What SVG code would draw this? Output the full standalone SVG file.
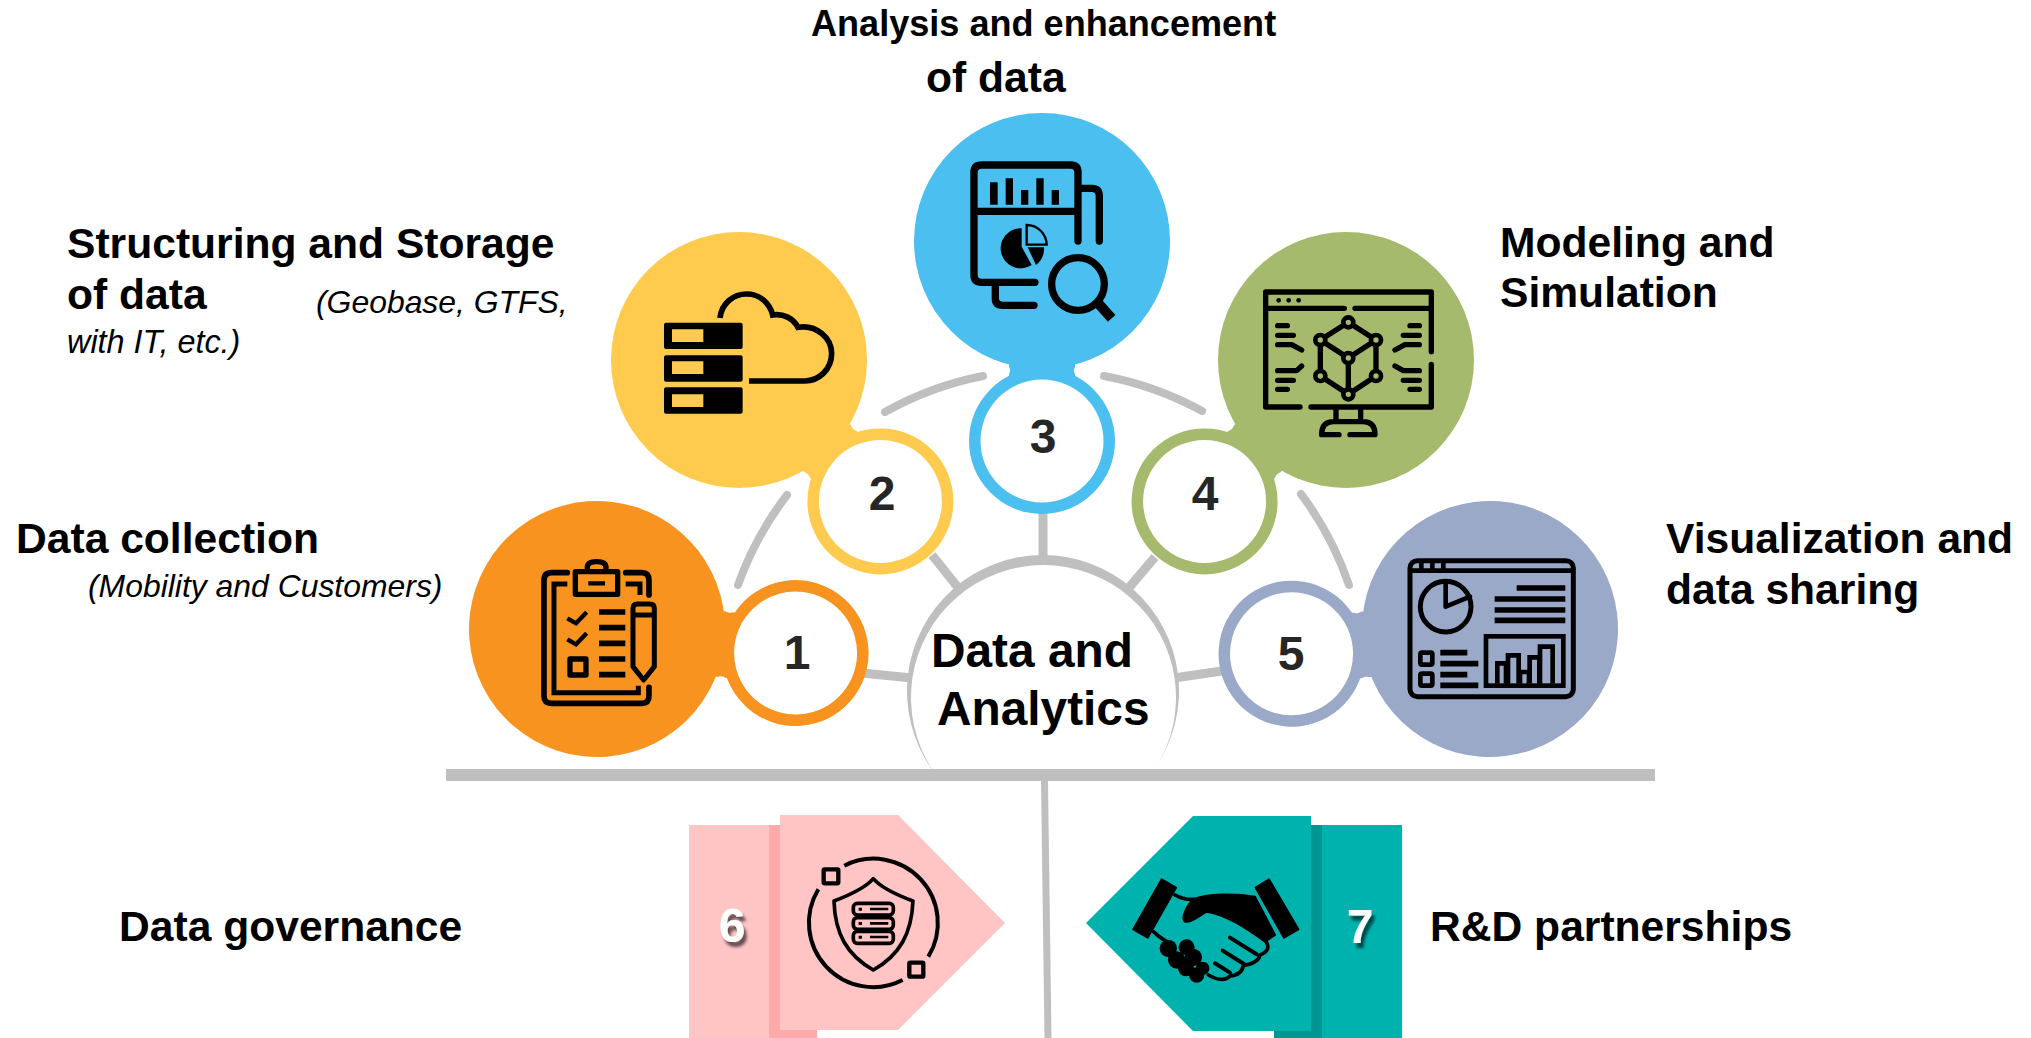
<svg xmlns="http://www.w3.org/2000/svg" width="2031" height="1038" viewBox="0 0 2031 1038">
<style>
text{font-family:"Liberation Sans",Arial,sans-serif}
.lb{font-weight:700;font-size:42.600px;fill:#000}
.it{font-style:italic;font-size:31.900px;fill:#000}
.num{font-weight:700;font-size:48px;fill:#262626;text-anchor:middle}
.wn{font-weight:700;font-size:48px;fill:#fff;text-anchor:middle;filter:url(#sh)}
.ct{font-weight:700;font-size:47.800px;fill:#000}
.conn line,.conn path{stroke:#bfbfbf;fill:none}
.s{fill:none;stroke:#000;stroke-linecap:round;stroke-linejoin:round}
.b{fill:none;stroke:#000;stroke-linecap:butt;stroke-linejoin:miter}
.k{fill:#000}
</style>
<defs>
<filter id="sh" x="-30%" y="-30%" width="170%" height="170%"><feDropShadow dx="3" dy="5" stdDeviation="1.500" flood-color="#000" flood-opacity=".6"/></filter>
<g id="blob">
<circle r="128"/>
<circle cx="200" r="73"/>
<rect x="100" y="-33" width="60" height="66"/>
<circle cx="129.500" cy="-39" r="7" fill="#fff"/>
<circle cx="129.500" cy="39" r="7" fill="#fff"/>
<circle cx="200" r="61.500" fill="#fff"/>
</g>
</defs>
<rect width="2031" height="1038" fill="#fff"/>

<g id="connectors" class="conn">
<g stroke-width="9">
<line x1="1043" y1="510" x2="1043" y2="560"/>
<line x1="932" y1="555" x2="960" y2="590"/>
<line x1="1155" y1="557" x2="1127" y2="590"/>
<line x1="862" y1="673" x2="912" y2="678"/>
<line x1="1174" y1="678" x2="1222" y2="671"/>
</g>
<g stroke-width="8" stroke-linecap="round">
<path d="M738,585 A330,330 0 0 1 787,495"/>
<path d="M885,412 A330,330 0 0 1 983,376"/>
<path d="M1104,376 A330,330 0 0 1 1202,411"/>
<path d="M1301,494 A330,330 0 0 1 1349,585"/>
</g>
<line x1="446" y1="775" x2="1655" y2="775" stroke-width="12"/>
<line x1="1044.500" y1="781" x2="1048" y2="1038" stroke-width="7"/>
</g>

<g id="hub">
<path d="M931.600,769 A136,136 0 1 1 1154.400,769 Z" fill="#bfbfbf"/>
<path d="M931.900,769 A132.500,132.500 0 1 1 1155.100,769 Z" fill="#fff"/>
<text class="ct" x="931" y="667">Data and</text>
<text class="ct" x="937" y="725">Analytics</text>
</g>

<g id="node1">
<use href="#blob" fill="#f8931f" transform="translate(597,629) rotate(6.900)"/>
<text class="num" x="797" y="669">1</text>
<g transform="translate(450,480) scale(.3333)">
<path class="s" stroke-width="17" d="M352,278H305Q282,278 282,301V648Q282,670 305,670H575Q597,670 597,648V622M527,278H575Q597,278 597,301V345"/>
<path class="b" stroke-width="15" d="M352,312H312V638H565V617M527,312H570V345"/>
<path class="s" stroke-width="16" d="M376,275H503V343H376ZM412,275V262Q412,245 440,245Q468,245 468,262V275"/>
<path class="b" stroke-width="13" d="M415,310H465M352,415L378,430L410,397M352,478L378,493L410,460"/>
<path class="b" stroke-width="17" d="M447,396H526M447,443H526M447,490H526M447,537H526M447,584H526"/>
<rect class="s" stroke-width="16" x="360" y="537" width="48" height="48"/>
<path class="s" stroke-width="15" d="M549,385Q549,372 562,372H600Q613,372 613,385V560L581,600L549,560ZM549,405H613"/>
</g>
<text class="lb" x="16" y="553">Data collection</text>
<text class="it" x="88" y="597">(Mobility and Customers)</text>
</g>

<g id="node2">
<use href="#blob" fill="#ffcb4e" transform="translate(739,360) rotate(45)"/>
<text class="num" x="882" y="510">2</text>
<g transform="translate(600,220) scale(.3333)">
<path class="k" d="M198,308H422Q428,308 428,314V381Q428,387 422,387H198Q192,387 192,381V314Q192,308 198,308ZM198,406H422Q428,406 428,412V479Q428,485 422,485H198Q192,485 192,479V412Q192,406 198,406ZM198,502H422Q428,502 428,508V575Q428,581 422,581H198Q192,581 192,575V508Q192,502 198,502Z"/>
<path fill="#ffcb4e" d="M216,328H310V366H216ZM216,424H310V462H216ZM216,523H310V561H216Z"/>
<path class="b" stroke-width="17" d="M360,294C365,250 400,222 440,222C480,222 510,250 518,285C550,280 580,295 594,322C650,312 695,355 695,400C695,450 655,483 615,483H447"/>
</g>
<text class="lb" x="67" y="258">Structuring and Storage</text>
<text class="lb" x="67" y="309">of data</text>
<text class="it" x="316" y="313">(Geobase, GTFS,</text>
<text class="it" x="67" y="353" style="font-size:32.400px">with IT, etc.)</text>
</g>

<g id="node3">
<use href="#blob" fill="#4bbff0" transform="translate(1042,241) rotate(90)"/>
<text class="num" x="1043" y="453">3</text>
<g transform="translate(930,130) scale(.3333)">
<path class="s" stroke-width="22" d="M315,457H155Q132,457 132,435V127Q132,105 155,105H422Q444,105 444,127V333M132,244H444M196,457V505Q196,526 217,526H312M444,175H485Q508,175 508,198V333"/>
<path class="k" d="M180,157h23v67h-23zM227,145h22v79h-22zM273,180h22v44h-22zM319,145h22v79h-22zM365,180h22v44h-22zM275,295A60,60 0 1 0 305,405L275,350ZM293,352H342A62,62 0 0 1 318,405Z"/>
<path class="b" stroke-width="7" d="M290,285V344H350A60,60 0 0 0 290,285Z"/>
<circle class="b" stroke-width="22" cx="444" cy="462" r="79"/>
<path class="b" stroke-width="30" d="M505,520L545,565"/>
</g>
<text class="lb" x="811" y="36" style="font-size:36.100px">Analysis and enhancement</text>
<text class="lb" x="926" y="92">of data</text>
</g>

<g id="node4">
<use href="#blob" fill="#a5ba6c" transform="translate(1346,360) rotate(135)"/>
<text class="num" x="1205" y="510">4</text>
<g transform="translate(1240,270) scale(.3333)">
<path class="s" stroke-width="16" d="M180,411H77V66H574V245M574,283V411H213M77,115H313M345,115H574M288,411V455M362,411V455M297,494H245Q245,455 280,455H370Q405,455 405,494H330M113,167H142M113,196H160M113,224H155L185,240M185,288L170,302H113M113,331H160M113,358H142M510,167H538M490,196H538M538,224H495L465,240M465,288L490,302H538M490,331H538M510,358H538M325,157L241,210L241,318L325,373L408,318L408,210L325,157M241,210L325,264L408,210M325,264V373"/>
<g fill="#a5ba6c" stroke="#000" stroke-width="14"><circle cx="325" cy="157" r="15"/><circle cx="241" cy="210" r="15"/><circle cx="408" cy="210" r="15"/><circle cx="325" cy="264" r="15"/><circle cx="241" cy="318" r="15"/><circle cx="408" cy="318" r="15"/><circle cx="325" cy="373" r="15"/></g>
<circle class="k" cx="116" cy="91" r="7"/><circle class="k" cx="146" cy="91" r="7"/><circle class="k" cx="176" cy="91" r="7"/>
</g>
<text class="lb" x="1500" y="257">Modeling and</text>
<text class="lb" x="1500" y="307">Simulation</text>
</g>

<g id="node5">
<use href="#blob" fill="#9ba9c8" transform="translate(1490,629) rotate(172.900)"/>
<text class="num" x="1291" y="670">5</text>
<g transform="translate(1380,540) scale(.3333)">
<rect class="s" stroke-width="15" x="90" y="62" width="490" height="408" rx="22"/>
<path class="b" stroke-width="14" d="M90,92H580M124,62V92M157,62V92M190,62V92"/>
<circle class="s" stroke-width="15" cx="197" cy="200" r="76"/>
<path class="s" stroke-width="14" d="M270,170L197,200V125"/>
<path class="b" stroke-width="17" d="M410,144H556M344,177H556M344,210H556M344,241H556M181,338H262M181,371H295M181,404H262M181,436H295"/>
<rect class="b" stroke-width="14" x="318" y="289" width="232" height="148"/>
<path class="b" stroke-width="14" d="M352,431V370H378V431M384,431V346H416V431M420,431V396H447V431M449,431V352H478V431M480,431V320H518V431"/>
<rect class="s" stroke-width="14" x="121" y="338" width="36" height="36" rx="5"/>
<rect class="s" stroke-width="14" x="121" y="401" width="36" height="36" rx="5"/>
</g>
<text class="lb" x="1666" y="553">Visualization and</text>
<text class="lb" x="1666" y="604">data sharing</text>
</g>

<g id="node6">
<rect x="689" y="825" width="80" height="213" fill="#ffc4c4"/>
<rect x="769" y="825" width="48" height="213" fill="#ffaaaa"/>
<path d="M780,815H898L1005,923L898,1030H780Z" fill="#ffc4c4"/>
<text class="wn" x="732" y="942">6</text>
<g transform="translate(670,800) scale(.3333)">
<path class="b" stroke-width="12" d="M523,197A193,193 0 0 1 775,470M698,540A193,193 0 0 1 445,268"/>
<rect class="s" stroke-width="13" x="461" y="208" width="44" height="42" rx="3"/>
<rect class="s" stroke-width="13" x="718" y="488" width="42" height="42" rx="3"/>
<path class="s" stroke-width="11" d="M610,236C585,265 540,285 492,303C495,400 530,465 610,510C690,465 725,400 729,303C680,285 635,265 610,236Z"/>
<rect class="s" stroke-width="11" x="550" y="310" width="120" height="35" rx="12"/>
<rect class="s" stroke-width="11" x="550" y="353" width="120" height="35" rx="12"/>
<rect class="s" stroke-width="11" x="550" y="394" width="120" height="36" rx="12"/>
<path class="k" d="M566,323h10v9h-10zM566,366h10v9h-10zM566,407h10v9h-10zM600,323h55v8h-55zM600,366h55v8h-55zM600,407h55v8h-55z"/>
</g>
<text class="lb" x="119" y="941">Data governance</text>
</g>

<g id="node7">
<rect x="1322" y="825" width="80" height="213" fill="#00b2ae"/>
<rect x="1274" y="825" width="48" height="213" fill="#009590"/>
<path d="M1086,923L1193,816H1311V1031H1193Z" fill="#00b2ae"/>
<text class="wn" x="1360" y="943">7</text>
<g transform="translate(1060,800) scale(.3333)">
<path class="k" stroke="#000" stroke-width="6" stroke-linejoin="round" d="M305,238L348,263L263,413L220,388ZM627,238L587,263L672,413L715,388ZM400,298C440,280 530,280 585,290L645,405L615,425C560,385 500,345 440,335C420,345 395,370 375,365C360,355 385,310 400,298Z"/>
<g class="k"><circle cx="325" cy="445" r="26"/><circle cx="350" cy="480" r="26"/><circle cx="380" cy="442" r="24"/><circle cx="400" cy="472" r="26"/><circle cx="378" cy="505" r="24"/><circle cx="410" cy="525" r="23"/><circle cx="428" cy="505" r="20"/></g>
<path class="s" stroke-width="11" d="M345,285Q370,300 405,298M280,395Q295,410 320,425M618,425Q635,450 600,465Q595,490 550,497Q545,525 510,528Q490,550 445,525"/>
<path class="s" stroke-width="12" d="M510,413L590,463M488,452L552,492M465,490L510,518"/>
</g>
<text class="lb" x="1430" y="941">R&amp;D partnerships</text>
</g>
</svg>
